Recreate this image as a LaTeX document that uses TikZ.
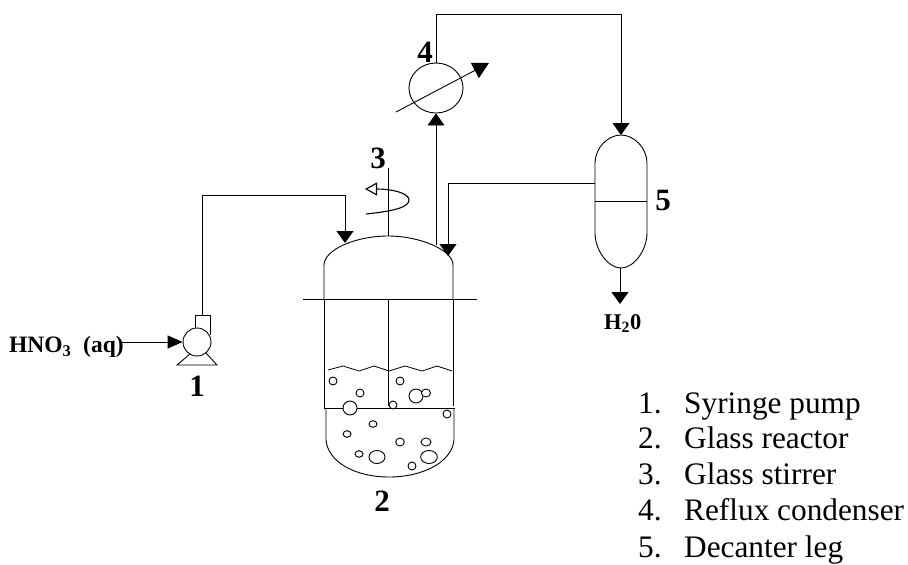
\documentclass[tikz,border=0pt]{standalone}
\usepackage{fontspec}
\setmainfont{Liberation Serif}
\usetikzlibrary{arrows.meta,shapes.geometric}

\begin{document}
\begin{tikzpicture}[
  x=1pt, y=-1pt,
  unit/.style={draw, line width=0.9pt, inner sep=0pt, fill=white},
  wall/.style={line width=0.9pt},
  pipe/.style={line width=0.9pt},
  arr/.style={pipe, -{Triangle[length=12pt, width=17pt]}},
  tag/.style={font=\fontsize{31}{34}\selectfont\bfseries, inner sep=0pt},
  stream/.style={font=\fontsize{23.5}{26}\selectfont\bfseries, inner sep=0pt, anchor=base west},
  num/.style={font=\fontsize{31.3}{34}\selectfont, inner sep=0pt, anchor=base west},
  bubble/.style={draw, line width=0.9pt, fill=white},
]
\useasboundingbox (0,0) rectangle (908,565);

% fixed points on the vessels
\coordinate (feedtop) at (345,243);
\coordinate (vapour) at (436,245);
\coordinate (backin) at (448,256);
\coordinate (dectop) at (621,135);
\coordinate (decside) at (595,183);
\coordinate (decbot) at (620,268);
\coordinate (drain) at (620,304);
\coordinate (shafttop) at (388,168);
\coordinate (shaftbot) at (388,236);
\coordinate (acidin) at (122,342);
\coordinate (pumpout) at (202,315);

% reactor
\draw[wall] (324,299) -- (324,265) .. controls (324,250) and (355,236) .. (388,236)
  .. controls (420,236) and (453,250) .. (453,265) -- (453,299);
\draw[wall] (303,299) -- (477,299);
\draw[wall] (324,299) -- (324,408) -- (455,408);
\draw[wall] (453,299) -- (453,406);
\draw[wall] (388,299) -- (388,406);
\draw[wall] (326,408) -- (326,440) .. controls (328,462) and (355,477) .. (389,477)
  .. controls (423,477) and (452,462) .. (454,440) -- (454,408);
\draw[line width=0.8pt] (328,370) -- (343,366) -- (359,371) -- (374,366) -- (389,371)
  -- (405,366) -- (422,371) -- (437,366) -- (452,371);
\foreach \bx/\by/\brx/\bry in {333/381/4/4, 360/393/4/4, 350/408/7/7, 400/381/4/4,
    416/396/7/7, 426/393/4.5/4, 393/405/4/4, 447/414/4/4, 373/424/4/3.3, 347/434/4/3.3,
    400/442/4.3/4, 426/442/5/4, 359/454/4/3.3, 377/457/8/6.5, 429/457/8.3/6.5, 412/466/4/4}
  \draw[bubble] (\bx,\by) ellipse [x radius=\brx, y radius=\bry];

% stirrer
\draw[wall] (shafttop) -- (shaftbot);
\draw[line width=1.1pt, -{Triangle[open, fill=white, length=12pt, width=13pt]}]
  (366,214) .. controls (395,211) and (409,207) .. (409,200)
  .. controls (409,193) and (392,189) .. (365,189);

% pump
\draw[wall] (195,335) -- (195,315) -- (210,315) -- (210,335);
\draw[wall] (190,354) -- (177,365) -- (217,365) -- (206,353);
\node[unit, circle, minimum size=28pt] (pump) at (197,342) {};

% condenser
\node[unit, ellipse, minimum width=54pt, minimum height=50pt] (cond) at (436,88) {};
\draw[pipe, -{Triangle[length=16pt, width=17pt]}] (396,112) -- (489,63);

% decanter
\draw[wall] (595,163) .. controls (595,148) and (608,135) .. (621,135)
  .. controls (634,135) and (647,148) .. (647,163) -- (647,233)
  .. controls (647,250) and (634,268) .. (621,268)
  .. controls (608,268) and (595,250) .. (595,233) -- cycle;
\draw[wall] (595,201) -- (647,201);

% piping
\draw[pipe, -{Triangle[length=15pt, width=13pt]}] (acidin) -- (pump);
\draw[arr] (pumpout) |- (feedtop |- 0,195) -- (feedtop);
\draw[arr] (vapour) -- (cond);
\draw[arr] (cond) |- (dectop |- 0,14) -- (dectop);
\draw[arr] (decside) -| (backin);
\draw[arr] (decbot) -- (drain);

% labels
\node[tag] (lab1) at (197,386) {1};
\node[tag] (lab2) at (382,501) {2};
\node[tag] (lab3) at (378,158) {3};
\node[tag] (lab4) at (425,52) {4};
\node[tag] (lab5) at (663,200) {5};
\node[stream] (acid) at (9,352.5) {HNO\textsubscript{3}\ \ (aq)};
\node[stream, font=\fontsize{22.5}{25}\selectfont\bfseries] (water) at (604,329) {H\textsubscript{2}0};

\foreach \n/\txt/\ypos in {1/Syringe pump/413, 2/Glass reactor/448, 3/Glass stirrer/484,
    4/Reflux condenser/520, 5/Decanter leg/557} {
  \node[num] (no\n) at (638,\ypos) {\n.};
  \node[num] (item\n) at (684,\ypos) {\txt};
}
\end{tikzpicture}
\end{document}
